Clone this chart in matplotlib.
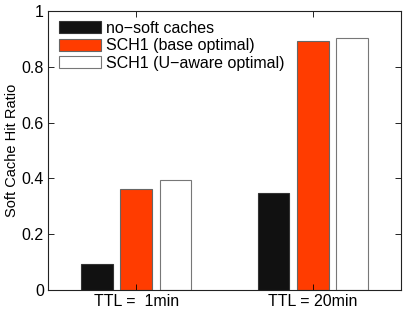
import matplotlib
matplotlib.use("Agg")
import matplotlib.pyplot as plt
import numpy as np

plt.rcParams["font.family"] = ["Liberation Sans", "DejaVu Sans"]

# data
groups = ["TTL =  1min", "TTL = 20min"]
series = ["no\u2212soft caches", "SCH1 (base optimal)", "SCH1 (U\u2212aware optimal)"]
no_soft = [0.092, 0.347]
base_opt = [0.361, 0.892]
uaware_opt = [0.393, 0.905]

colors = ["#111111", "#ff3c00", "#ffffff"]
edges = ["#333333", "#666666", "#777777"]

fig = plt.figure(figsize=(4.07, 3.11), dpi=100)
ax = fig.add_axes([0.118, 0.0675, 0.867, 0.897])

x = np.arange(1, len(groups) + 1)
width = 0.18
offsets = [-0.222, 0.0, 0.222]
for vals, off, c, ec, lab in zip([no_soft, base_opt, uaware_opt], offsets, colors, edges, series):
    ax.bar(x + off, vals, width=width, color=c, edgecolor=ec, linewidth=0.8, label=lab)

ax.set_xlim(0.5, 2.5)
ax.set_ylim(0, 1)
ax.set_xticks(x)
ax.set_xticklabels(groups)
ax.set_yticks([0, 0.2, 0.4, 0.6, 0.8, 1])
ax.set_yticklabels(["0", "0.2", "0.4", "0.6", "0.8", "1"])
ax.tick_params(direction="in", top=True, right=True, length=4, width=0.6,
               labelsize=11.5, pad=3, colors="#000000")
ax.set_ylabel("Soft Cache Hit Ratio", fontsize=10.5, labelpad=2)
for s in ax.spines.values():
    s.set_linewidth(0.8)
    s.set_color("#222222")

ax.legend(loc="upper left", bbox_to_anchor=(0.03, 0.965), frameon=False,
          fontsize=11.5, handlelength=2.65, handleheight=0.8, handletextpad=0.3,
          labelspacing=0.15, borderpad=0, borderaxespad=0)

fig.savefig("out.png", dpi=100)
